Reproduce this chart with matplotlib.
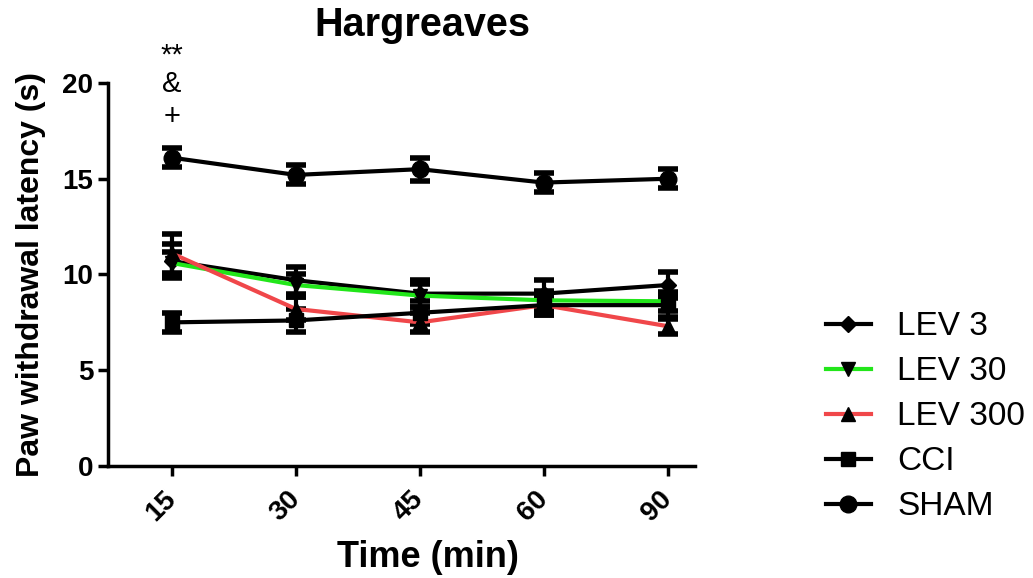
import matplotlib
matplotlib.use("Agg")
import matplotlib.pyplot as plt
from matplotlib.lines import Line2D
import numpy as np

plt.rcParams['font.family'] = ['Liberation Sans', 'DejaVu Sans']

# time points (min) and group means / SEM
times = ['15', '30', '45', '60', '90']

lev3 = [10.7, 9.7, 9.0, 9.0, 9.45]
lev3_err = [0.9, 0.7, 0.7, 0.7, 0.7]

lev30 = [10.6, 9.45, 8.9, 8.65, 8.6]
lev30_err = [0.6, 0.6, 0.6, 0.5, 0.5]

lev300 = [11.1, 8.2, 7.5, 8.4, 7.3]
lev300_err = [1.0, 0.6, 0.5, 0.5, 0.4]

cci = [7.5, 7.6, 8.0, 8.4, 8.4]
cci_err = [0.5, 0.6, 0.6, 0.5, 0.6]

sham = [16.1, 15.2, 15.5, 14.8, 15.0]
sham_err = [0.5, 0.5, 0.6, 0.5, 0.5]

sig_marks = ['**', '&', '+']
sig_y = [21.45, 19.95, 18.2]

series = [
    ('LEV 3', lev3, lev3_err, 'black', 'D', 8),
    ('LEV 30', lev30, lev30_err, '#22e61a', 'v', 10),
    ('LEV 300', lev300, lev300_err, '#f0474a', '^', 10),
    ('CCI', cci, cci_err, 'black', 's', 10),
    ('SHAM', sham, sham_err, 'black', 'o', 12),
]

fig = plt.figure(figsize=(10.33, 5.78), dpi=100)
ax = fig.add_axes([0.1045, 0.1938, 0.568, 0.6626])

x = np.arange(len(times))
handles = []
for name, vals, err, col, mk, ms in series:
    ax.errorbar(x, vals, yerr=err, color=col, lw=3, marker=mk, ms=ms,
                mfc='black', mec='black', ecolor='black', elinewidth=3,
                capsize=7, capthick=4, zorder=3)
    handles.append(Line2D([], [], color=col, lw=3, marker=mk, ms=ms,
                          mfc='black', mec='black', label=name))

# significance symbols above the first time point
for s, yy in zip(sig_marks, sig_y):
    ax.text(0, yy, s, ha='center', va='center', fontsize=21, clip_on=False)

ax.set_xlim(-0.516, 4.218)
ax.set_ylim(0, 20)
ax.set_yticks([0, 5, 10, 15, 20])
ax.set_xticks(x)
ax.set_xticklabels(times, rotation=45, ha='right', va='center',
                   rotation_mode='anchor', fontsize=20, fontweight='bold')
for lbl in ax.get_yticklabels():
    lbl.set_fontsize(20)
    lbl.set_fontweight('bold')

for side in ['top', 'right']:
    ax.spines[side].set_visible(False)
for side in ['left', 'bottom']:
    ax.spines[side].set_linewidth(2.5)
ax.tick_params(direction='out', width=2.5, length=7)
ax.tick_params(axis='x', pad=14)

ax.set_xlabel('Time (min)', fontsize=26, fontweight='bold')
ax.xaxis.set_label_coords((428 - 108) / 587, -0.193)
ax.set_ylabel('Paw withdrawal latency (s)', fontsize=23, fontweight='bold', labelpad=12)
fig.text(422 / 1033, 1 - 25 / 578, 'Hargreaves', ha='center', va='center',
         fontsize=28.5, fontweight='bold')

ax.legend(handles=handles, loc='center left', bbox_to_anchor=(1.172, 0.128),
          frameon=False, fontsize=24, handlelength=1.35, handletextpad=0.8,
          labelspacing=0.42)

fig.savefig('out.png', dpi=100)
